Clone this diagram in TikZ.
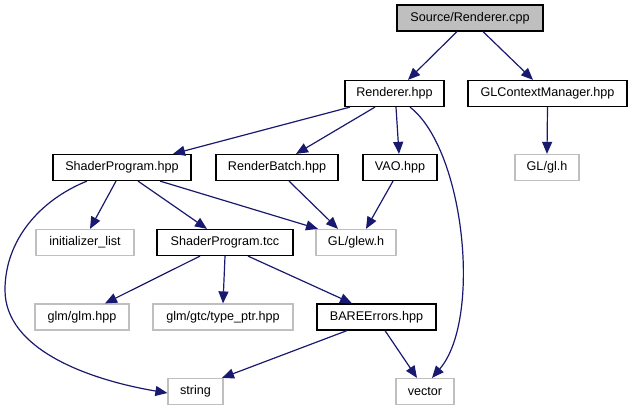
\documentclass[tikz,border=0pt]{standalone}
\usepackage{fontspec}
\setmainfont{Liberation Sans}
\usetikzlibrary{arrows.meta}
\definecolor{edgeblue}{HTML}{191970}
\definecolor{grey75}{HTML}{BFBFBF}
\begin{document}
\begin{tikzpicture}[x=1pt,y=-1pt,
  box/.style={draw=black,line width=1.2pt,minimum height=26pt,inner sep=0pt,anchor=center,font=\fontsize{12.6}{14}\selectfont},
  gbox/.style={box,draw=grey75},
  srcbox/.style={box,fill=grey75},
  edge/.style={draw=edgeblue,line width=1.2pt,-{Triangle[length=12pt,width=10pt]}}]
\useasboundingbox (0,0) rectangle (632,411);
% nodes
\node[srcbox,minimum width=146pt] (src) at (470,18) {Source/Renderer.cpp};
\node[box,minimum width=99pt] (rhpp) at (394.5,93.5) {Renderer.hpp};
\node[box,minimum width=159pt] (glcm) at (547.5,93.5) {GLContextManager.hpp};
\node[box,minimum width=138pt] (sphpp) at (122,167.5) {ShaderProgram.hpp};
\node[box,minimum width=122pt] (rb) at (277,167.5) {RenderBatch.hpp};
\node[box,minimum width=74pt] (vao) at (400,167.5) {VAO.hpp};
\node[gbox,minimum width=64pt] (glh) at (547,167.5) {GL/gl.h};
\node[gbox,minimum width=98pt] (initlist) at (85,242.5) {initializer\_list};
\node[box,minimum width=136pt] (sptcc) at (225,242.5) {ShaderProgram.tcc};
\node[gbox,minimum width=80pt] (glew) at (356,242.5) {GL/glew.h};
\node[gbox,minimum width=94pt] (glm) at (82,317) {glm/glm.hpp};
\node[gbox,minimum width=140pt] (typeptr) at (223,317) {glm/gtc/type\_ptr.hpp};
\node[box,minimum width=119pt] (bare) at (376.5,317) {BAREErrors.hpp};
\node[gbox,minimum width=55pt] (string) at (195.5,391.5) {string};
\node[gbox,minimum width=58pt] (vector) at (425,391.5) {vector};
% edges
\draw[edge] ([xshift=-13pt]src.south) -- ([xshift=13.5pt]rhpp.north);
\draw[edge] ([xshift=13pt]src.south) -- ([xshift=-14.5pt]glcm.north);
\draw[edge] ([xshift=-44.5pt]rhpp.south) -- ([xshift=51pt]sphpp.north);
\draw[edge] ([xshift=-19.5pt]rhpp.south) -- ([xshift=19pt]rb.north);
\draw[edge] ([xshift=1.5pt]rhpp.south) -- ([xshift=-1pt]vao.north);
\draw[edge] ([xshift=15.5pt]rhpp.south) .. controls (465,150) and (482,320) .. ([xshift=7pt]vector.north);
\draw[edge] (glcm.south) -- (glh.north);
\draw[edge] ([xshift=-35pt]sphpp.south) .. controls (40,200) and (5,240) .. (5,290) .. controls (5,350) and (90,380) .. ([yshift=-1.5pt]string.west);
\draw[edge] ([xshift=-6pt]sphpp.south) -- ([xshift=5pt]initlist.north);
\draw[edge] ([xshift=16pt]sphpp.south) -- ([xshift=-18pt]sptcc.north);
\draw[edge] ([xshift=38pt]sphpp.south) -- ([xshift=-38pt]glew.north);
\draw[edge] ([xshift=12pt]rb.south) -- ([xshift=-18pt]glew.north);
\draw[edge] ([xshift=-7pt]vao.south) -- ([xshift=10pt]glew.north);
\draw[edge] ([xshift=-25pt]sptcc.south) -- ([xshift=23pt]glm.north);
\draw[edge] (sptcc.south) -- (typeptr.north);
\draw[edge] ([xshift=23pt]sptcc.south) -- ([xshift=-24.5pt]bare.north);
\draw[edge] ([xshift=-29.5pt]bare.south) -- ([xshift=26.5pt]string.north);
\draw[edge] ([xshift=8.5pt]bare.south) -- ([xshift=-8pt]vector.north);
\end{tikzpicture}
\end{document}
